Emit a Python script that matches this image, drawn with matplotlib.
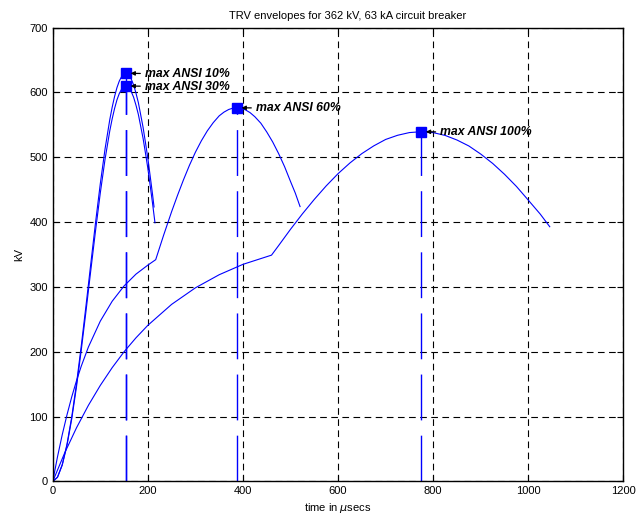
import matplotlib.pyplot as plt

plt.rcParams['font.family'] = ['Liberation Sans', 'DejaVu Sans']

# ANSI 10% envelope (kV vs microseconds)
t10 = [0, 10, 20, 30, 40, 50, 60, 70, 80, 90, 100, 110, 120, 125, 130, 135, 140,
       145, 150, 153.5, 157, 160, 165, 170, 175, 180, 185, 190, 195, 200, 205,
       210, 213]
v10 = [0, 6.6, 26.0, 57.5, 99.7, 150.9, 209.1, 271.3, 335.6, 399.1, 459.0, 512.7,
       558.2, 577.1, 593.5, 607.2, 617.5, 624.6, 628.6, 629.4, 628.6, 626.6, 620.6,
       611.6, 598.9, 584.3, 565.2, 545.9, 522.5, 498.3, 470.3, 441.8, 423.3]

# ANSI 30% envelope
t30 = [0, 10, 20, 30, 40, 50, 60, 70, 80, 90, 100, 110, 120, 125, 130, 135, 140,
       145, 150, 153.5, 157, 160, 165, 170, 175, 180, 185, 190, 195, 200, 205,
       210, 215]
v30 = [0, 6.4, 25.2, 55.7, 96.6, 146.2, 202.6, 262.9, 325.2, 386.7, 444.7, 496.8,
       540.8, 559.2, 575.0, 588.3, 598.3, 605.2, 609.1, 609.8, 609.1, 607.1, 601.3,
       592.6, 580.3, 566.1, 547.6, 528.9, 506.3, 482.8, 455.7, 428.1, 398.9]

# ANSI 60% envelope
t60 = [0, 10, 20, 30, 40, 50, 60, 75, 100, 125, 150, 175, 200, 216.5, 233,
       250, 262.5, 275, 287.5, 300, 312.5, 325, 337.5, 350, 360, 370, 380, 386.8,
       395, 405, 415, 425, 437.5, 450, 462.5, 475, 487.5, 500, 510, 520]
v60 = [0, 37.9, 72.1, 102.8, 130.5, 155.4, 177.8, 207.3, 247.2, 277.9, 301.5,
       319.7, 333.6, 342.0, 379.4, 416.1, 441.4, 465.3, 487.6, 507.7, 525.3,
       540.6, 553.3, 563.8, 569.5, 573.6, 575.9, 576.3, 575.7, 573.1, 568.7,
       562.4, 552.5, 538.9, 523.5, 505.5, 485.4, 462.5, 444.7, 423.9]

# ANSI 100% envelope
t100 = [0, 25, 50, 75, 100, 125, 150, 175, 200, 250, 300, 350, 400, 460, 475,
        500, 525, 550, 575, 600, 625, 650, 675, 700, 725, 750, 774.3, 800, 825,
        850, 875, 900, 925, 950, 975, 1000, 1025, 1045]
v100 = [0, 43.8, 82.8, 117.4, 148.1, 175.5, 200.0, 221.5, 240.8, 273.1, 298.6,
        318.8, 334.8, 349.0, 363.8, 388.9, 412.7, 435.0, 455.8, 474.7, 491.2,
        505.6, 517.5, 527.4, 533.8, 538.0, 539.3, 537.9, 533.6, 526.5, 517.3,
        504.8, 490.4, 473.6, 454.9, 433.7, 412.3, 392.8]

# peak points and labels
peak_t = [153.5, 153.5, 386.8, 774.3]
peak_v = [629.4, 609.8, 576.3, 539.3]
peak_labels = ['max ANSI 10%', 'max ANSI 30%', 'max ANSI 60%', 'max ANSI 100%']

fig = plt.figure(figsize=(6.36, 5.19), dpi=100)
ax = fig.add_axes([0.0829, 0.0723, 0.8974, 0.8747])

for t, v in [(t10, v10), (t30, v30), (t60, v60), (t100, v100)]:
    ax.plot(t, v, color='#0000ff', lw=0.8)

for t, v in zip(peak_t, peak_v):
    ax.plot([t, t], [0, v], color='#0000ff', lw=1.0, dashes=(33, 11))
ax.plot(peak_t, peak_v, 's', color='#0000ff', ms=6.5, mec='#0000ff')

for t, v, lab in zip(peak_t, peak_v, peak_labels):
    ax.annotate(lab, (t, v), xytext=(14, -0.5), textcoords='offset points',
                ha='left', va='center', fontsize=8.8, fontweight='bold',
                fontstyle='italic',
                arrowprops=dict(arrowstyle='-|>', color='black', lw=0.9,
                                mutation_scale=6, shrinkA=1.5, shrinkB=3.5))

ax.set_xlim(0, 1200)
ax.set_ylim(0, 700)
ax.set_xticks(range(0, 1201, 200))
ax.set_yticks(range(0, 701, 100))
ax.tick_params(direction='in', top=True, right=True, length=4, labelsize=8)
ax.grid(True, color='black', lw=0.8, linestyle=(0, (6, 4)))
for s in ax.spines.values():
    s.set_linewidth(1.0)

ax.set_title('TRV envelopes for 362 kV, 63 kA circuit breaker', fontsize=8, x=0.517)
ax.set_xlabel('time in $\\mu$secs', fontsize=8, labelpad=3)
ax.set_ylabel('kV', fontsize=8)

fig.savefig('out.png', dpi=100)
